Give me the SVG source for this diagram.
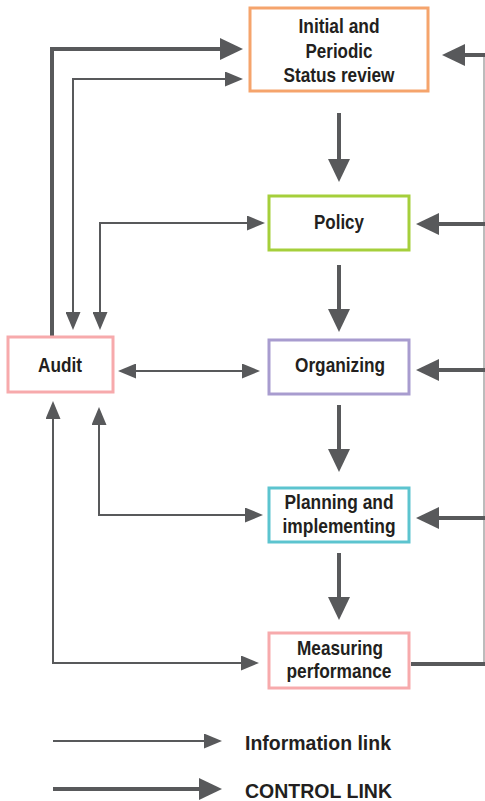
<svg xmlns="http://www.w3.org/2000/svg" width="485" height="801" viewBox="0 0 485 801">
<style>
.box{fill:#fff;stroke-width:3}
.t{font-family:"Liberation Sans",Arial,sans-serif;font-weight:bold;font-size:20.5px;fill:#231f20;text-anchor:middle}
.lg{text-anchor:start}
.thin{fill:none;stroke:#58595b;stroke-width:2}
.thick{fill:none;stroke:#58595b;stroke-width:4}
.side{fill:none;stroke:#bcbcbc;stroke-width:2}
</style>
<defs>
<marker id="ah" viewBox="0 0 18 15" refX="0" refY="7.5" markerWidth="18" markerHeight="15" markerUnits="userSpaceOnUse" orient="auto-start-reverse">
<path d="M0,0 L18,7.5 L0,15 Z" fill="#58595b"/>
</marker>
<marker id="AH" viewBox="0 0 23 22" refX="0" refY="11" markerWidth="23" markerHeight="22" markerUnits="userSpaceOnUse" orient="auto">
<path d="M0,0 L23,11 L0,22 Z" fill="#58595b"/>
</marker>
</defs>

<g id="connectors">
<path class="side" d="M484,55 V664"/>
<path class="thick" d="M52,336 V49 H220" marker-end="url(#AH)"/>
<path class="thin" d="M73,312 V79 H225" marker-start="url(#ah)" marker-end="url(#ah)"/>
<path class="thin" d="M100,312 V223 H247" marker-start="url(#ah)" marker-end="url(#ah)"/>
<path class="thin" d="M136,371 H242" marker-start="url(#ah)" marker-end="url(#ah)"/>
<path class="thin" d="M99,425 V515 H245" marker-start="url(#ah)" marker-end="url(#ah)"/>
<path class="thin" d="M53,419 V663 H241" marker-start="url(#ah)" marker-end="url(#ah)"/>
<path class="thick" d="M339,113 V159" marker-end="url(#AH)"/>
<path class="thick" d="M339,265 V309" marker-end="url(#AH)"/>
<path class="thick" d="M339,405 V449" marker-end="url(#AH)"/>
<path class="thick" d="M339,553 V597" marker-end="url(#AH)"/>
<path class="thick" d="M411,664 H485"/>
<path class="thick" d="M485,55 H465" marker-end="url(#AH)"/>
<path class="thick" d="M485,224 H439" marker-end="url(#AH)"/>
<path class="thick" d="M485,370 H439" marker-end="url(#AH)"/>
<path class="thick" d="M485,518 H439" marker-end="url(#AH)"/>
<path class="thin" d="M53,741 H204" marker-end="url(#ah)"/>
<path class="thick" d="M53,789 H199" marker-end="url(#AH)"/>
</g>

<g id="initial">
<rect class="box" x="250" y="8" width="178" height="83" stroke="#f5a46c"/>
<text class="t" x="339" y="33" textLength="81" lengthAdjust="spacingAndGlyphs">Initial and</text>
<text class="t" x="339" y="58" textLength="67" lengthAdjust="spacingAndGlyphs">Periodic</text>
<text class="t" x="339" y="82" textLength="111" lengthAdjust="spacingAndGlyphs">Status review</text>
</g>
<g id="policy">
<rect class="box" x="269" y="196" width="140" height="54" stroke="#a5cf3b"/>
<text class="t" x="339" y="229" textLength="50" lengthAdjust="spacingAndGlyphs">Policy</text>
</g>
<g id="organizing">
<rect class="box" x="269" y="340" width="140" height="54" stroke="#a89ccf"/>
<text class="t" x="340" y="372" textLength="90" lengthAdjust="spacingAndGlyphs">Organizing</text>
</g>
<g id="planning">
<rect class="box" x="269" y="488" width="140" height="54" stroke="#5cc4cf"/>
<text class="t" x="339" y="509" textLength="109" lengthAdjust="spacingAndGlyphs">Planning and</text>
<text class="t" x="339" y="533" textLength="113" lengthAdjust="spacingAndGlyphs">implementing</text>
</g>
<g id="measuring">
<rect class="box" x="269" y="633" width="140" height="55" stroke="#f7aaac"/>
<text class="t" x="340" y="655" textLength="86" lengthAdjust="spacingAndGlyphs">Measuring</text>
<text class="t" x="339" y="678" textLength="105" lengthAdjust="spacingAndGlyphs">performance</text>
</g>
<g id="audit">
<rect class="box" x="8" y="337" width="105" height="55" stroke="#f7aaac"/>
<text class="t" x="60" y="372" textLength="44" lengthAdjust="spacingAndGlyphs">Audit</text>
</g>
<g id="legend">
<text class="t lg" x="245" y="750" textLength="146" lengthAdjust="spacingAndGlyphs">Information link</text>
<text class="t lg" x="245" y="798" textLength="147" lengthAdjust="spacingAndGlyphs">CONTROL LINK</text>
</g>
</svg>
